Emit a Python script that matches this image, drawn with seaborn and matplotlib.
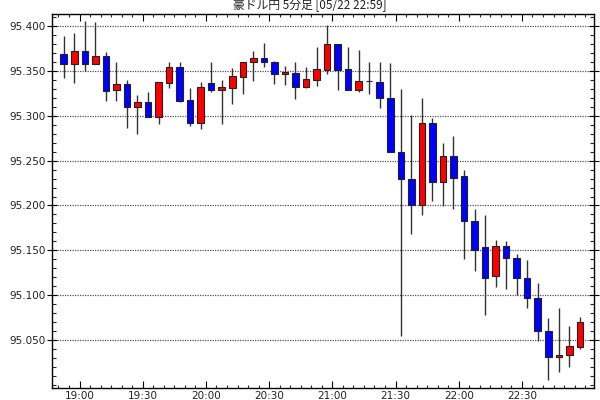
import numpy as np
import pandas as pd
import matplotlib
matplotlib.use("Agg")
import matplotlib.pyplot as plt
from matplotlib.ticker import MultipleLocator, FixedLocator, FuncFormatter
import seaborn as sns

# ---- data (5-minute candles, first candle 18:50, last 22:55) ----
start_time = "18:50"
opens  = [95.368, 95.357, 95.372, 95.357, 95.366, 95.328, 95.335, 95.309, 95.315, 95.298,
          95.336, 95.354, 95.317, 95.292, 95.336, 95.328, 95.331, 95.343, 95.359, 95.364,
          95.360, 95.346, 95.347, 95.332, 95.339, 95.351, 95.379, 95.352, 95.328, 95.338,
          95.337, 95.319, 95.260, 95.229, 95.201, 95.292, 95.226, 95.255, 95.233, 95.183,
          95.154, 95.122, 95.155, 95.142, 95.119, 95.097, 95.060, 95.032, 95.034, 95.043]
highs  = [95.388, 95.392, 95.405, 95.404, 95.371, 95.359, 95.339, 95.323, 95.326, 95.337,
          95.359, 95.359, 95.331, 95.337, 95.359, 95.340, 95.353, 95.359, 95.372, 95.381,
          95.361, 95.355, 95.360, 95.354, 95.376, 95.401, 95.379, 95.376, 95.373, 95.360,
          95.360, 95.358, 95.330, 95.301, 95.319, 95.297, 95.269, 95.277, 95.239, 95.196,
          95.189, 95.162, 95.161, 95.146, 95.139, 95.114, 95.075, 95.086, 95.066, 95.076]
lows   = [95.342, 95.336, 95.349, 95.357, 95.316, 95.316, 95.286, 95.280, 95.298, 95.291,
          95.331, 95.315, 95.288, 95.285, 95.326, 95.291, 95.313, 95.324, 95.338, 95.354,
          95.335, 95.334, 95.318, 95.331, 95.333, 95.346, 95.328, 95.328, 95.326, 95.324,
          95.308, 95.259, 95.055, 95.168, 95.189, 95.205, 95.199, 95.196, 95.140, 95.127,
          95.078, 95.109, 95.107, 95.100, 95.086, 95.049, 95.006, 95.015, 95.021, 95.041]
closes = [95.357, 95.372, 95.357, 95.366, 95.327, 95.335, 95.309, 95.315, 95.298, 95.337,
          95.354, 95.316, 95.292, 95.332, 95.328, 95.332, 95.344, 95.359, 95.364, 95.359,
          95.346, 95.348, 95.332, 95.341, 95.352, 95.379, 95.351, 95.328, 95.338, 95.338,
          95.319, 95.259, 95.229, 95.201, 95.292, 95.226, 95.255, 95.231, 95.183, 95.151,
          95.119, 95.155, 95.142, 95.119, 95.097, 95.060, 95.032, 95.034, 95.044, 95.070]
y_tick_values = [95.050, 95.100, 95.150, 95.200, 95.250, 95.300, 95.350, 95.400]
tick_labels = ["19:00", "19:30", "20:00", "20:30", "21:00", "21:30", "22:00", "22:30"]
title = "豪ドル円 5分足 [05/22 22:59]"

# ---- table ----
n = len(opens)
h0, m0 = map(int, start_time.split(":"))
start_min = (h0 - 19) * 60 + m0          # minutes relative to 19:00
df = pd.DataFrame({"open": opens, "high": highs, "low": lows, "close": closes})
df["t"] = start_min + 5 * np.arange(n) + 2.5   # candle centre in minutes after 19:00
df["bottom"] = df[["open", "close"]].min(axis=1)
df["height"] = (df["close"] - df["open"]).abs()
def colour(r):
    if r["close"] > r["open"]:
        return "#ff0000"
    if r["close"] < r["open"]:
        return "#0000ff"
    return "#000000"
df["color"] = df.apply(colour, axis=1)

sns.set_theme(style="white")
plt.rcParams["font.family"] = ["DejaVu Sans", "Noto Sans CJK JP"]

fig = plt.figure(figsize=(6, 4), dpi=100)
ax = fig.add_axes([0.0867, 0.03, 0.9033, 0.935])

# wicks
ax.vlines(df["t"], df["low"], df["high"], color="#333333", linewidth=1.0, zorder=2)
# bodies
ax.bar(df["t"], df["height"].where(df["height"] > 0, 0.0004), bottom=df["bottom"],
       width=3.1, color=df["color"], edgecolor="#222222", linewidth=0.8, zorder=3)

ax.set_xlim(-13.05, 244.2)
ax.set_ylim(94.9972, 95.4128)

ax.yaxis.set_major_locator(FixedLocator(y_tick_values))
ax.yaxis.set_minor_locator(MultipleLocator(0.01))
ax.yaxis.set_major_formatter(FuncFormatter(lambda v, p: f"{v:.3f}"))
ax.set_xticks([30 * i for i in range(len(tick_labels))])
ax.set_xticklabels(tick_labels)
ax.xaxis.set_minor_locator(MultipleLocator(5))

ax.grid(axis="y", which="major", linestyle=(0, (1, 1)), color="#555555", linewidth=0.9)
ax.grid(axis="x", visible=False)
ax.set_axisbelow(True)

ax.tick_params(axis="y", which="major", direction="inout", length=7, width=0.8,
               labelsize=7.5, colors="black", left=True, right=True, pad=1)
ax.tick_params(axis="y", which="minor", direction="in", length=3, width=0.8,
               left=True, right=True)
ax.tick_params(axis="x", which="major", direction="in", length=5, width=0.8,
               labelsize=7.5, colors="black", bottom=True, top=True, pad=2.5)
ax.tick_params(axis="x", which="minor", direction="in", length=2.5, width=0.8,
               bottom=True, top=True)
for lbl in ax.get_yticklabels() + ax.get_xticklabels():
    lbl.set_color("#222222")

for s in ax.spines.values():
    s.set_color("black")
    s.set_linewidth(1.0)
    s.set_visible(True)

fig.text(310 / 600, 1 - 5 / 400, title, fontsize=8.5, color="#222222",
         ha="center", va="center", family=["Noto Sans CJK JP", "DejaVu Sans"])

fig.savefig("out.png", dpi=100, facecolor="white")
